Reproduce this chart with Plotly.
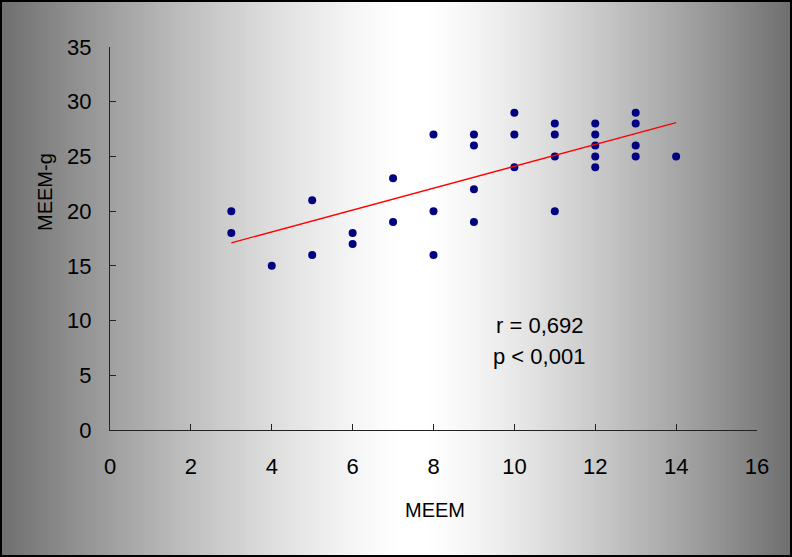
import plotly.graph_objects as go

# ---- data ----
meem = [3, 3, 4, 5, 5, 6, 6, 7, 7, 8, 8, 8, 9, 9, 9, 9, 10, 10, 10,
        11, 11, 11, 11, 12, 12, 12, 12, 12, 13, 13, 13, 13, 14]
meem_g = [20, 18, 15, 21, 16, 18, 17, 23, 19, 27, 20, 16, 27, 26, 22, 19, 29, 27, 24,
          28, 27, 25, 20, 28, 27, 26, 25, 24, 29, 28, 26, 25, 25]
trend_x = [3, 14]
trend_y = [17.1, 28.1]
x_ticks = [0, 2, 4, 6, 8, 10, 12, 14, 16]
y_ticks = [0, 5, 10, 15, 20, 25, 30, 35]
stats_text = ["r = 0,692", "p < 0,001"]

W, H = 792, 557
L, R, T, B = 110, 35, 47, 127
PW, PH = W - L - R, H - T - B


def px(x):
    return (x - L) / PW


def py(y):
    return (H - B - y) / PH


fig = go.Figure()
fig.add_trace(go.Scatter(x=meem, y=meem_g, mode="markers",
                         marker=dict(color="#000080", size=8, line=dict(width=0)),
                         showlegend=False, hoverinfo="x+y"))
fig.add_trace(go.Scatter(x=trend_x, y=trend_y, mode="lines",
                         line=dict(color="#ff0000", width=1.3),
                         showlegend=False, hoverinfo="skip"))

# gradient background strips
shapes = []
step = 3
for x0 in range(0, W, step):
    c = x0 + step / 2
    if c < 405:
        d, D = 405 - c, 405
    elif c > 425:
        d, D = c - 425, W - 425
    else:
        d, D = 0, 1
    g = int(round(255 - 145 * (min(d / D, 1.0)) ** 1.3))
    col = f"rgb({g},{g},{g})"
    shapes.append(dict(type="rect", xref="paper", yref="paper", layer="below",
                       x0=px(x0), x1=px(min(x0 + step + 0.5, W)), y0=py(H), y1=py(0),
                       fillcolor=col, line=dict(width=0)))
# border
shapes.append(dict(type="rect", xref="paper", yref="paper", layer="above",
                   x0=px(1), x1=px(W - 1), y0=py(H - 1), y1=py(1),
                   line=dict(color="#000000", width=2), fillcolor="rgba(0,0,0,0)"))

font_family = "Liberation Sans, Arial, sans-serif"


def ann(text, x, y, size, angle=0):
    return dict(text=text, xref="paper", yref="paper", x=px(x), y=py(y),
                xanchor="center", yanchor="middle", textangle=angle,
                showarrow=False, font=dict(size=size, color="#000", family=font_family))


annotations = [
    ann("MEEM-g", 45, 192, 20, -90),
    ann("MEEM", 435, 510, 20),
    ann(stats_text[0], 539, 325, 22),
    ann(stats_text[1], 539, 356, 22),
]

axis_common = dict(showline=True, linecolor="#222", linewidth=1, ticks="inside",
                   ticklen=6, tickcolor="#222", tickwidth=1, showgrid=False,
                   zeroline=False, tickfont=dict(size=22, color="#000", family=font_family))

fig.update_layout(
    width=W, height=H,
    margin=dict(l=L, r=R, t=T, b=B),
    paper_bgcolor="#ffffff", plot_bgcolor="rgba(0,0,0,0)",
    shapes=shapes, annotations=annotations,
    xaxis=dict(range=[0, 16], tickvals=x_ticks, ticklabelstandoff=17, **axis_common),
    yaxis=dict(range=[0, 35], tickvals=y_ticks, ticklabelstandoff=13, **axis_common),
)

fig.write_html("out.html")
